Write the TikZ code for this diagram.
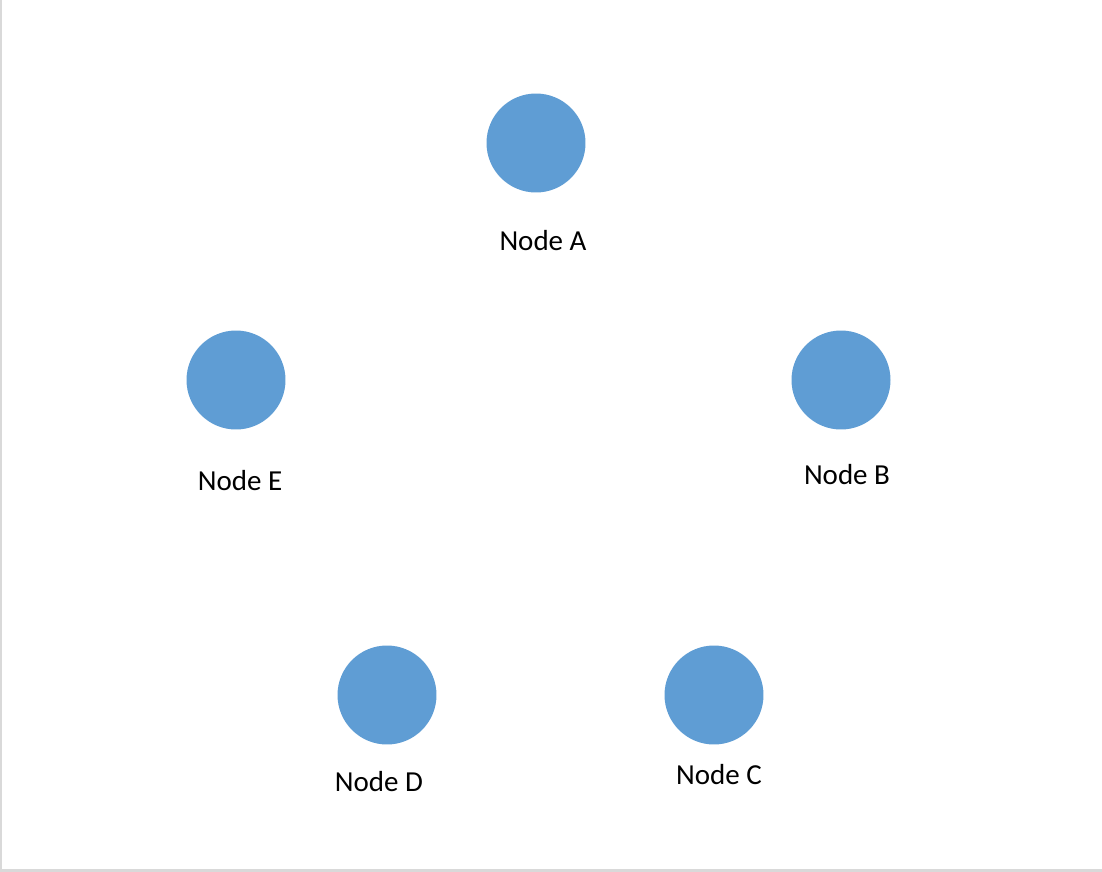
\documentclass[tikz,border=0pt]{standalone}
\usepackage{fontspec}
\setmainfont{Carlito}
\definecolor{nodeblue}{HTML}{5F9DD4}
\definecolor{edgegrey}{HTML}{D9D9D9}
\tikzset{
  vertex/.style={circle, fill=nodeblue, draw=none, minimum size=1.98cm, inner sep=0pt},
  vlabel/.style={font=\fontsize{16.5}{19}\selectfont, inner sep=0pt}
}
\begin{document}
\begin{tikzpicture}[x=0.02cm, y=-0.02cm]
			%%Location
			\useasboundingbox (0,0) rectangle (1102,872);
			\fill[white] (0,0) rectangle (1102,872);
			%%frame
			\fill[edgegrey] (0,0) rectangle (2,872);
			\fill[edgegrey] (0,869) rectangle (1102,872);

			%%Nodes
			\node[vertex] (a) at (536,143) {};
			\node[vertex] (b) at (841,380) {};
			\node[vertex] (c) at (714,695) {};
			\node[vertex] (d) at (387,695) {};
			\node[vertex] (e) at (236,380) {};

			%%Label
			\node[vlabel] (la) at (543,241) {Node A};
			\node[vlabel] (lb) at (847,475) {Node B};
			\node[vlabel] (lc) at (719,775) {Node C};
			\node[vlabel] (ld) at (379,782) {Node D};
			\node[vlabel] (le) at (240,481) {Node E};
\end{tikzpicture}
\end{document}
